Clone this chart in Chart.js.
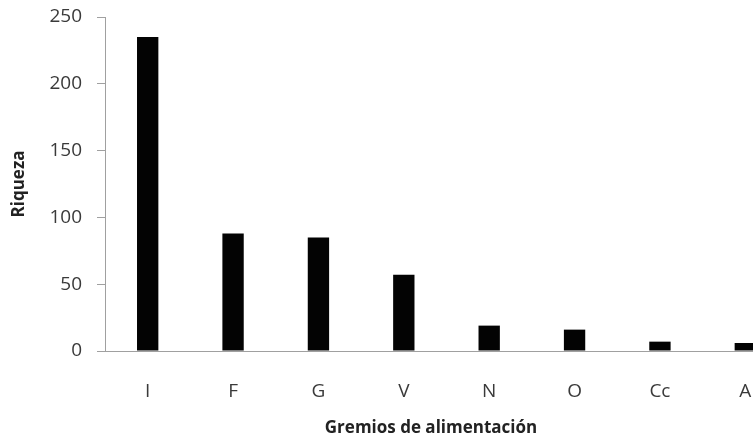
<!DOCTYPE html>
<html>
<head>
<meta charset="utf-8">
<script src="https://cdn.jsdelivr.net/npm/chart.js@4/dist/chart.umd.min.js"></script>
<style>
    html, body { margin: 0; padding: 0; background: #fff; overflow: hidden; }
    #wrap { position: relative; width: 800px; height: 441px; }
</style>
</head>
<body>
<div id="wrap"><canvas id="gremios"></canvas></div>
<script>
// Riqueza por gremio de alimentación
const GREMIOS = ['I', 'F', 'G', 'V', 'N', 'O', 'Cc', 'A'];
const RIQUEZA = [235, 88, 85, 57, 19, 16, 7, 6];
const Y_MIN = 0, Y_MAX = 250, Y_STEP = 50;

const AXIS_GRAY = '#a0a0a0';
const FONT = "'Open Sans', 'Liberation Sans', sans-serif";

// Título del eje X dibujado a mano (en el original no está centrado en el área del gráfico).
const xTitlePlugin = {
    id: 'xTitle',
    afterDraw(chart) {
        const c = chart.ctx;
        c.save();
        c.font = `bold 17px ${FONT}`;
        c.fillStyle = '#222';
        c.textAlign = 'center';
        c.textBaseline = 'alphabetic';
        c.fillText('Gremios de alimentación', 431, 433);
        c.restore();
    },
};

new Chart(document.getElementById('gremios'), {
    type: 'bar',
    data: {
        labels: GREMIOS,
        datasets: [{
            label: 'Riqueza',
            data: RIQUEZA,
            backgroundColor: '#030303',
            categoryPercentage: 1,
            barPercentage: 0.25,
        }],
    },
    options: {
        responsive: true,
        maintainAspectRatio: false,
        animation: false,
        layout: { padding: { top: 17, right: 12, bottom: 0, left: 0 } },
        plugins: { legend: { display: false }, tooltip: { enabled: false } },
        scales: {
            x: {
                grid: { display: false },
                border: { color: AXIS_GRAY, width: 1 },
                ticks: { color: '#3a3a3a', font: { family: FONT, size: 19 }, padding: 21 },
                afterFit: (s) => { s.height = 90; s.paddingLeft = 0; s.paddingRight = 0; },
            },
            y: {
                min: Y_MIN, max: Y_MAX,
                grid: { drawOnChartArea: false, drawTicks: true, tickLength: 8, color: AXIS_GRAY },
                border: { color: AXIS_GRAY, width: 1 },
                ticks: { stepSize: Y_STEP, color: '#3a3a3a', font: { family: FONT, size: 19 }, padding: 15 },
                title: {
                    display: true, text: 'Riqueza', color: '#222',
                    font: { family: FONT, size: 17, weight: 'bold' }, padding: { top: 9, bottom: 0 },
                },
                afterFit: (s) => { s.width = 105; s.paddingTop = 0; s.paddingBottom = 0; },
            },
        },
    },
    plugins: [xTitlePlugin],
});
</script>
</body>
</html>
